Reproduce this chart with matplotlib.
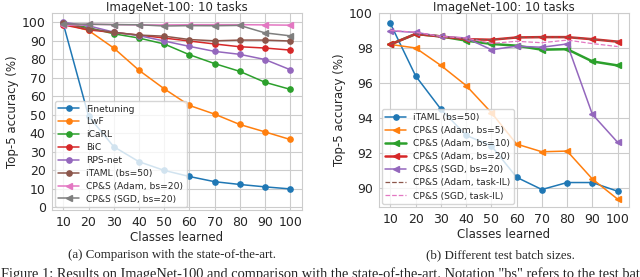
import matplotlib
matplotlib.use("Agg")
import matplotlib.pyplot as plt
import seaborn as sns

sns.set_style("whitegrid")
plt.rcParams['font.family'] = ['DejaVu Sans']

classes = [10, 20, 30, 40, 50, 60, 70, 80, 90, 100]

# (a) comparison with the state of the art
finetuning = [99.0, 49.2, 32.7, 24.6, 19.9, 16.6, 13.8, 12.3, 11.0, 9.9]
lwf = [99.3, 95.5, 86.0, 74.0, 64.0, 55.0, 50.3, 44.7, 40.7, 36.6]
icarl = [99.5, 97.0, 93.7, 91.4, 88.2, 82.4, 77.6, 73.4, 67.5, 63.7]
bic = [98.5, 95.8, 94.4, 93.0, 91.4, 89.8, 88.2, 86.7, 86.0, 84.9]
rpsnet = [99.9, 98.0, 94.6, 92.7, 89.8, 86.9, 84.2, 82.6, 79.8, 74.3]
itaml = [99.4, 96.4, 94.5, 93.0, 92.4, 90.6, 89.9, 90.3, 90.3, 89.8]
cps_adam_bs20 = [98.2, 98.8, 98.66, 98.5, 98.47, 98.6, 98.62, 98.62, 98.5, 98.36]
cps_sgd_bs20 = [98.98, 98.89, 98.66, 98.57, 97.9, 98.1, 98.04, 98.23, 94.2, 92.6]

# (b) different test batch sizes
cps_adam_bs5 = [98.2, 98.0, 97.0, 95.85, 94.3, 92.5, 92.06, 92.1, 90.5, 89.35]
cps_adam_bs10 = [98.2, 98.8, 98.66, 98.42, 98.23, 98.13, 97.9, 97.93, 97.23, 97.0]
cps_adam_taskil = [98.2, 98.8, 98.66, 98.5, 98.47, 98.6, 98.62, 98.62, 98.5, 98.36]
cps_sgd_taskil = [99.0, 98.9, 98.66, 98.57, 98.26, 98.38, 98.3, 98.45, 98.25, 98.08]

title = "ImageNet-100: 10 tasks"
xlabel = "Classes learned"
ylabel = "Top-5 accuracy (%)"
cap_a = "(a) Comparison with the state-of-the-art."
cap_b = "(b) Different test batch sizes."
fig_caption = ('Figure 1: Results on ImageNet-100 and comparison with the state-of-the-art. '
               'Notation "bs" refers to the test batch size.')

W, H = 640, 277
fig = plt.figure(figsize=(W / 100, H / 100), dpi=100)

def ax_rect(x0, y0, x1, y1):
    return [x0 / W, 1 - y1 / H, (x1 - x0) / W, (y1 - y0) / H]

axa = fig.add_axes(ax_rect(52, 12.5, 301.5, 210))
axb = fig.add_axes(ax_rect(379, 13, 629, 207))

tick_fs = 9.0
lab_fs = 8.5
leg_fs = 6.6
ms = 3.8
lw = 1.1

series_a = [
    ("Finetuning", finetuning, "o", "C0"),
    ("LwF", lwf, "o", "C1"),
    ("iCaRL", icarl, "o", "C2"),
    ("BiC", bic, "o", "C3"),
    ("RPS-net", rpsnet, "o", "C4"),
    ("iTAML (bs=50)", itaml, "o", "C5"),
    ("CP&S (Adam, bs=20)", cps_adam_bs20, "<", "C6"),
    ("CP&S (SGD, bs=20)", cps_sgd_bs20, "<", "C7"),
]
for lab, vals, mk, col in series_a:
    axa.plot(classes, vals, marker=mk, color=col, label=lab, lw=lw, ms=ms)

axa.set_ylim(-1.5, 105.2)
axa.set_yticks(range(0, 101, 10))
axa.set_xticks(classes)
axa.set_title(title, fontsize=lab_fs, pad=1.2)
axa.set_xlabel(xlabel, fontsize=lab_fs, labelpad=1)
axa.set_ylabel(ylabel, fontsize=lab_fs, labelpad=2)
axa.tick_params(labelsize=tick_fs, pad=1)
axa.legend(loc="lower left", fontsize=leg_fs, framealpha=0.8,
           borderaxespad=0.3, labelspacing=0.42, handlelength=2.2)

series_b = [
    ("iTAML (bs=50)", itaml, "o", "C0", "-", lw),
    ("CP&S (Adam, bs=5)", cps_adam_bs5, "<", "C1", "-", lw),
    ("CP&S (Adam, bs=10)", cps_adam_bs10, "<", "C2", "-", 1.8),
    ("CP&S (Adam, bs=20)", cps_adam_bs20, "<", "C3", "-", 1.8),
    ("CP&S (SGD, bs=20)", cps_sgd_bs20, "<", "C4", "-", lw),
    ("CP&S (Adam, task-IL)", cps_adam_taskil, None, "C5", "--", 0.9),
    ("CP&S (SGD, task-IL)", cps_sgd_taskil, None, "C6", "--", 0.9),
]
for lab, vals, mk, col, ls, w in series_b:
    axb.plot(classes, vals, marker=mk, color=col, label=lab, ls=ls, lw=w, ms=ms)

axb.set_ylim(88.9, 100)
axb.set_yticks([90, 92, 94, 96, 98, 100])
axb.set_xticks(classes)
axb.set_title(title, fontsize=lab_fs, pad=1.2)
axb.set_xlabel(xlabel, fontsize=lab_fs, labelpad=1)
axb.set_ylabel(ylabel, fontsize=lab_fs, labelpad=2)
axb.tick_params(labelsize=tick_fs, pad=1)
axb.legend(loc="lower left", fontsize=leg_fs, framealpha=0.8,
           borderaxespad=0.3, labelspacing=0.45, handlelength=2.2)

serif = ['Liberation Serif', 'DejaVu Serif']
fig.text(172 / W, 1 - 255 / H, cap_a, ha="center", va="center", fontsize=9.3, family=serif)
fig.text(500 / W, 1 - 255 / H, cap_b, ha="center", va="center", fontsize=9.3, family=serif)
fig.text(1 / W, 1 - 278 / H, fig_caption, ha="left", va="baseline", fontsize=10.4, family=serif)

fig.savefig("out.png", dpi=100)
